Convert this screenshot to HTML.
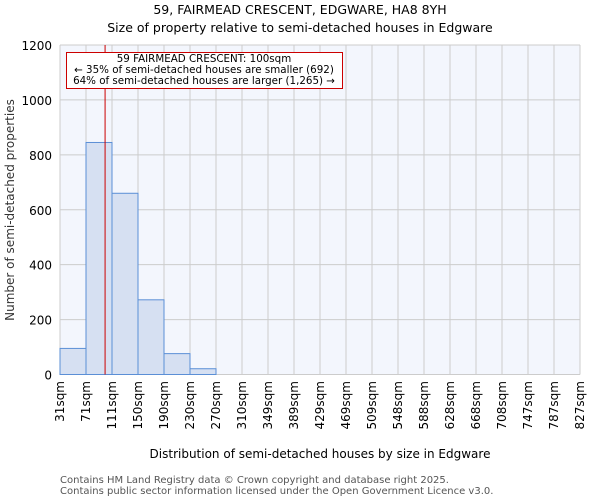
<!DOCTYPE html>
<html><head><meta charset="utf-8"><style>
body{margin:0;background:#fff;font-family:"DejaVu Sans","Liberation Sans",sans-serif}
</style></head><body>
<svg width="600" height="500" xmlns="http://www.w3.org/2000/svg" font-family="DejaVu Sans, Liberation Sans, sans-serif">
<text x="300" y="14" text-anchor="middle" font-size="12.5">59, FAIRMEAD CRESCENT, EDGWARE, HA8 8YH</text>
<text x="300" y="32" text-anchor="middle" font-size="12.5">Size of property relative to semi-detached houses in Edgware</text>
<rect x="60" y="45" width="520" height="330" fill="#f3f6fd"/>
<g id="grid"></g><g id="bars"></g><g id="ticks"></g>
<text transform="translate(14,210) rotate(-90)" text-anchor="middle" font-size="12" fill="#333">Number of semi-detached properties</text>
<text x="320" y="458" text-anchor="middle" font-size="12">Distribution of semi-detached houses by size in Edgware</text>
<text x="60" y="483" font-size="10" fill="#555">Contains HM Land Registry data © Crown copyright and database right 2025.</text>
<text x="60" y="494" font-size="10" fill="#555">Contains public sector information licensed under the Open Government Licence v3.0.</text>
</svg>
<script>
const edges=["31sqm","71sqm","111sqm","150sqm","190sqm","230sqm","270sqm","310sqm","349sqm","389sqm","429sqm","469sqm","509sqm","548sqm","588sqm","628sqm","668sqm","708sqm","747sqm","787sqm","827sqm"];
const counts=[95,845,660,272,76,21,0,0,0,0,0,0,0,0,0,0,0,0,0,0];
const yTicks=[0,200,400,600,800,1000,1200];
const subjectSize=100;
const edgeStart=31, edgeStep=39.8;
const ns="http://www.w3.org/2000/svg";
const X0=60,X1=580,Y0=374.5,Y1=45;
const xs=i=>X0+i*(X1-X0)/counts.length;
const ys=v=>Y0-(v/1200)*(Y0-Y1);
function mk(t,a,p){const e=document.createElementNS(ns,t);for(const k in a)e.setAttribute(k,a[k]);p.appendChild(e);return e;}
const g=document.getElementById('grid'),b=document.getElementById('bars'),tk=document.getElementById('ticks');
yTicks.forEach(v=>{const l=mk('line',{x1:X0,x2:X1,y1:ys(v),y2:ys(v),stroke:'#ccc'},g);


const t=mk('text',{x:52,y:ys(v)+5,'text-anchor':'end','font-size':12},tk);t.textContent=v;

});
edges.forEach((s,i)=>{const l=mk('line',{x1:xs(i),x2:xs(i),y1:Y1,y2:Y0,stroke:'#ccc'},g);


const gg=mk('g',{transform:'translate('+(xs(i)+4)+',381) rotate(-90)'},tk);
const t=mk('text',{x:0,y:0,'text-anchor':'end','font-size':12},gg);t.textContent=s;

});
counts.forEach((c,i)=>{if(c<=0)return;const r=mk('rect',{x:xs(i),y:ys(c),width:xs(i+1)-xs(i),height:Y0-ys(c),fill:'#d6e0f2',stroke:'#5b8fd6','stroke-width':1},b);

});
const lx=X0+(subjectSize-edgeStart)/edgeStep*(X1-X0)/counts.length;
const ml=mk('line',{x1:lx,x2:lx,y1:Y1,y2:Y0,stroke:'#c00','stroke-width':1},b);


const bx=mk('rect',{x:66.5,y:52.5,width:276,height:36,fill:'#fff',stroke:'#c00'},b);


[["59 FAIRMEAD CRESCENT: 100sqm",62],["← 35% of semi-detached houses are smaller (692)",73],["64% of semi-detached houses are larger (1,265) →",84]].forEach(([s,y])=>{const t=mk('text',{x:204,y:y,'text-anchor':'middle','font-size':10.3},b);t.textContent=s;

});
</script>
</body></html>
